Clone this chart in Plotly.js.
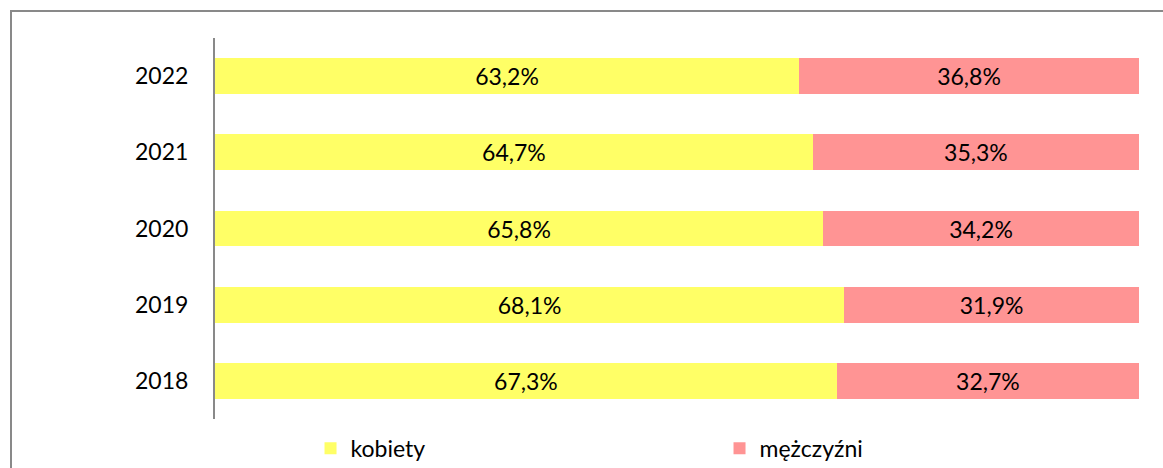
<!DOCTYPE html>
<html>
<head>
<meta charset="utf-8">
<script src="https://cdn.plot.ly/plotly-3.0.1.min.js"></script>
<style>
    html, body { margin: 0; padding: 0; background: #ffffff; }
    #wrap { position: relative; width: 1163px; height: 468px; overflow: hidden; }
    #chart { width: 1163px; height: 468px; }
    #frame {
        position: absolute; left: 10px; top: 10px; width: 1200px; height: 520px;
        border: 2px solid #898989; pointer-events: none;
    }
</style>
</head>
<body>
<div id="wrap">
    <div id="chart"></div>
    <div id="frame"></div>
</div>
<script>
// lata od dołu do góry
const years = ['2018', '2019', '2020', '2021', '2022'];
const kobiety = [67.3, 68.1, 65.8, 64.7, 63.2];
const mezczyzni = [32.7, 31.9, 34.2, 35.3, 36.8];

const labelFont = { family: 'Lato, "Open Sans", sans-serif', size: 23, color: '#000000' };

const traces = [
    {
        type: 'bar',
        orientation: 'h',
        name: 'kobiety',
        y: years,
        x: kobiety,
        marker: { color: '#FFFF66' },
        texttemplate: '%{x:.1f}%',
        textposition: 'inside',
        insidetextanchor: 'middle',
        textfont: labelFont,
        hoverinfo: 'skip'
    },
    {
        type: 'bar',
        orientation: 'h',
        name: 'mężczyźni',
        y: years,
        x: mezczyzni,
        marker: { color: '#FF9494' },
        texttemplate: '%{x:.1f}%',
        textposition: 'inside',
        insidetextanchor: 'middle',
        textfont: labelFont,
        hoverinfo: 'skip'
    }
];

const layout = {
    width: 1163,
    height: 468,
    barmode: 'stack',
    bargap: 0.53,
    separators: ', ',
    margin: { l: 215, r: 24, t: 38, b: 49 },
    paper_bgcolor: 'rgba(0,0,0,0)',
    plot_bgcolor: 'rgba(0,0,0,0)',
    font: labelFont,
    xaxis: {
        range: [0, 100],
        showgrid: false,
        zeroline: false,
        showticklabels: false,
        showline: false
    },
    yaxis: {
        type: 'category',
        categoryorder: 'array',
        categoryarray: years,
        showgrid: false,
        zeroline: false,
        showline: true,
        linecolor: '#898989',
        linewidth: 2,
        ticks: '',
        ticklabelstandoff: 20,
        tickfont: labelFont
    },
    showlegend: true,
    legend: {
        orientation: 'h',
        xref: 'container',
        x: 0.267,
        xanchor: 'left',
        y: 0.042,
        yanchor: 'middle',
        yref: 'container',
        entrywidth: 364,
        entrywidthmode: 'pixels',
        font: labelFont,
        traceorder: 'normal'
    }
};

Plotly.newPlot('chart', traces, layout, { displayModeBar: false, staticPlot: true });
</script>
</body>
</html>
